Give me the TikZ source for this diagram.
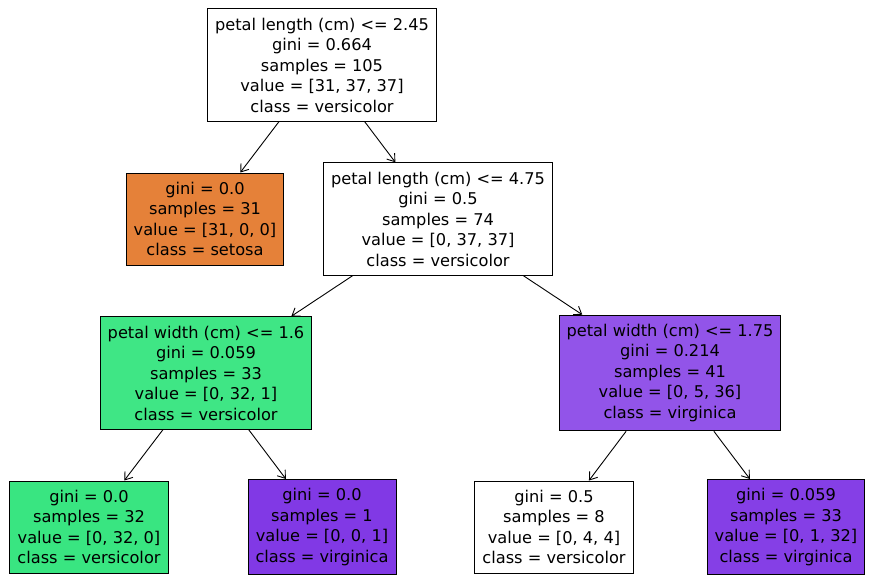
\documentclass[tikz,border=0pt]{standalone}
\usepackage{fontspec}
\setmainfont{DejaVu Sans}
\usetikzlibrary{arrows.meta}
\definecolor{setosa}{HTML}{E58139}
\definecolor{versi}{HTML}{39E581}
\definecolor{versilight}{HTML}{3FE685}
\definecolor{virgi}{HTML}{8139E5}
\definecolor{virgilight}{HTML}{853FE6}
\definecolor{virgimid}{HTML}{9254E9}

\begin{document}
\begin{tikzpicture}[x=1pt,y=-1pt,
	treenode/.style={draw=black,line width=0.9pt,align=center,inner xsep=7.5pt,inner ysep=9pt,
		font=\fontsize{16.2}{20.5}\selectfont},
	edge/.style={line width=0.9pt,-{Straight Barb[length=7pt,width=10pt]}}]
	\useasboundingbox (0,0) rectangle (876,583);
	% split nodes
	\node[treenode,fill=white] (root) at (322,65) {petal length (cm) <= 2.45\\gini = 0.664\\samples = 105\\value = [31, 37, 37]\\class = versicolor};
	\node[treenode,fill=white] (len) at (438,219) {petal length (cm) <= 4.75\\gini = 0.5\\samples = 74\\value = [0, 37, 37]\\class = versicolor};
	\node[treenode,fill=versilight] (widA) at (206,373) {petal width (cm) <= 1.6\\gini = 0.059\\samples = 33\\value = [0, 32, 1]\\class = versicolor};
	\node[treenode,fill=virgimid] (widB) at (670,373) {petal width (cm) <= 1.75\\gini = 0.214\\samples = 41\\value = [0, 5, 36]\\class = virginica};
	% leaves
	\node[treenode,fill=setosa] (leafA) at (205,219) {gini = 0.0\\samples = 31\\value = [31, 0, 0]\\class = setosa};
	\node[treenode,fill=versi] (leafB) at (89,527) {gini = 0.0\\samples = 32\\value = [0, 32, 0]\\class = versicolor};
	\node[treenode,fill=virgi] (leafC) at (322,527) {gini = 0.0\\samples = 1\\value = [0, 0, 1]\\class = virginica};
	\node[treenode,fill=white] (leafD) at (554,527) {gini = 0.5\\samples = 8\\value = [0, 4, 4]\\class = versicolor};
	\node[treenode,fill=virgilight] (leafE) at (786,527) {gini = 0.059\\samples = 33\\value = [0, 1, 32]\\class = virginica};
	% edges
	\draw[edge] (root) -- (leafA);
	\draw[edge] (root) -- (len);
	\draw[edge] (len) -- (widA);
	\draw[edge] (len) -- (widB);
	\draw[edge] (widA) -- (leafB);
	\draw[edge] (widA) -- (leafC);
	\draw[edge] (widB) -- (leafD);
	\draw[edge] (widB) -- (leafE);
\end{tikzpicture}
\end{document}
